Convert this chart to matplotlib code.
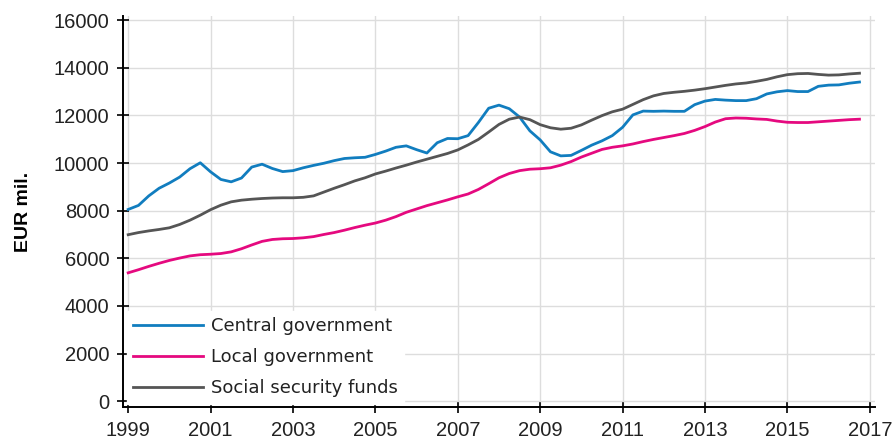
import numpy as np
import matplotlib
matplotlib.use("Agg")
import matplotlib.pyplot as plt

# quarterly observations, 1999Q1 .. 2016Q4
quarters = np.arange(1999, 2017, 0.25)

central = [8050, 8220, 8620, 8940, 9160, 9410, 9760, 10010,
           9630, 9310, 9210, 9370, 9830, 9950, 9770, 9640,
           9680, 9800, 9900, 9990, 10100, 10190, 10220, 10240,
           10360, 10500, 10660, 10720, 10560, 10420, 10850, 11030,
           11020, 11150, 11700, 12300, 12430, 12280, 11930, 11350,
           10970, 10470, 10300, 10320, 10530, 10750, 10930, 11150,
           11500, 12020, 12180, 12170, 12180, 12170, 12170, 12450,
           12600, 12670, 12640, 12620, 12620, 12700, 12900, 12990,
           13040, 13000, 13000, 13220, 13270, 13280, 13350, 13400]

local = [5390, 5520, 5660, 5790, 5910, 6010, 6100, 6150,
         6170, 6200, 6270, 6400, 6560, 6710, 6790, 6820,
         6830, 6860, 6910, 7000, 7080, 7180, 7290, 7390,
         7480, 7600, 7750, 7930, 8070, 8210, 8330, 8450,
         8580, 8700, 8890, 9130, 9380, 9560, 9680, 9740,
         9760, 9800, 9910, 10060, 10250, 10410, 10570, 10660,
         10720, 10800, 10900, 10990, 11070, 11150, 11240, 11370,
         11530, 11720, 11860, 11890, 11880, 11850, 11830, 11760,
         11710, 11700, 11700, 11730, 11760, 11790, 11820, 11840]

social = [6990, 7080, 7150, 7210, 7280, 7420, 7600, 7810,
          8040, 8230, 8370, 8440, 8480, 8510, 8530, 8540,
          8540, 8560, 8620, 8780, 8940, 9090, 9250, 9380,
          9540, 9660, 9790, 9910, 10040, 10160, 10280, 10400,
          10550, 10760, 10990, 11300, 11620, 11840, 11930, 11820,
          11610, 11480, 11420, 11460, 11600, 11800, 11990, 12150,
          12260, 12460, 12660, 12820, 12920, 12970, 13010, 13060,
          13120, 13190, 13260, 13320, 13360, 13430, 13510, 13620,
          13710, 13750, 13760, 13720, 13690, 13700, 13740, 13770]

labels = ['Central government', 'Local government', 'Social security funds']
colors = ['#117dbf', '#e5097f', '#555555']

xticks = list(range(1999, 2018, 2))
yticks = list(range(0, 16001, 2000))

fig = plt.figure(figsize=(8.93, 4.46), dpi=100)
ax = fig.add_axes([0.138, 0.087, 0.842, 0.877])

for series, name, c in zip([central, local, social], labels, colors):
    ax.plot(quarters, series, color=c, lw=2.0, label=name)

ax.set_xlim(1998.88, 2017.13)
ax.set_ylim(-252, 16170)
ax.set_xticks(xticks)
ax.set_yticks(yticks)
ax.grid(True, color='#dddddd', lw=1.0)
ax.set_axisbelow(True)

for s in ['top', 'right']:
    ax.spines[s].set_visible(False)
for s in ['left', 'bottom']:
    ax.spines[s].set_linewidth(1.4)
    ax.spines[s].set_color('black')

ax.tick_params(direction='inout', length=8, width=1.2, color='black',
               labelsize=14.5, labelcolor='#222222')
ax.tick_params(axis='y', pad=6)
ax.tick_params(axis='x', pad=6)
for t in ax.get_xticklabels() + ax.get_yticklabels():
    t.set_family('Liberation Sans')

ax.set_ylabel('EUR mil.', fontsize=14, fontweight='bold', family='Liberation Sans')
ax.yaxis.set_label_coords(-0.121, 0.5)

leg = ax.legend(loc='lower left', frameon=True, fancybox=False,
                prop={'family': 'DejaVu Sans', 'size': 13},
                handlelength=3.85, handletextpad=0.45, labelspacing=0.72,
                borderpad=0.35, borderaxespad=0.2)
leg.get_frame().set_facecolor('white')
leg.get_frame().set_edgecolor('white')
leg.get_frame().set_alpha(1)
for t in leg.get_texts():
    t.set_color('#222222')

fig.savefig('out.png', dpi=100)
